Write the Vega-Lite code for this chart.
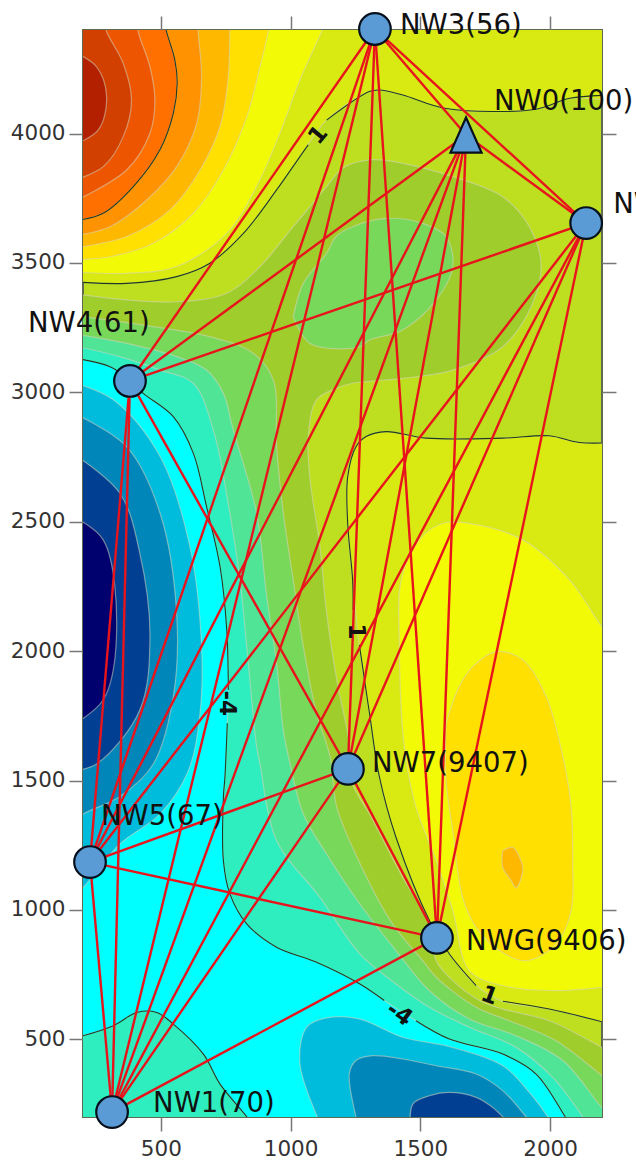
{"$schema":"https://vega.github.io/schema/vega-lite/v6.json","width":519,"height":1087,"autosize":"none","padding":{"left":83,"top":30,"right":34,"bottom":47},"background":"white","view":{"fill":"#bedf20","stroke":"#5f6a50","strokeWidth":2},
"config":{"font":"DejaVu Sans","axis":{"grid":false,"domain":false,"tickColor":"#777777","tickWidth":1.5,"tickSize":14,"labelFontSize":21.5,"labelColor":"#333333","title":null,"format":"d"}},
"datasets":{
"nodes":[{"name":"NW3","x":1325,"y":4404},{"name":"NW0","x":1676,"y":3994},{"name":"NW2","x":2139,"y":3654},{"name":"NW4","x":381,"y":3044},{"name":"NW7","x":1221,"y":1545},{"name":"NW5","x":227,"y":1185},{"name":"NWG","x":1564,"y":892},{"name":"NW1","x":312,"y":219}],
"edges":[{"x":1325,"y":4404,"x2":1676,"y2":3994},{"x":1325,"y":4404,"x2":2139,"y2":3654},{"x":1325,"y":4404,"x2":381,"y2":3044},{"x":1325,"y":4404,"x2":1221,"y2":1545},{"x":1325,"y":4404,"x2":227,"y2":1185},{"x":1325,"y":4404,"x2":1564,"y2":892},{"x":1325,"y":4404,"x2":312,"y2":219},{"x":1676,"y":3994,"x2":2139,"y2":3654},{"x":1676,"y":3994,"x2":381,"y2":3044},{"x":1676,"y":3994,"x2":1221,"y2":1545},{"x":1676,"y":3994,"x2":227,"y2":1185},{"x":1676,"y":3994,"x2":1564,"y2":892},{"x":1676,"y":3994,"x2":312,"y2":219},{"x":2139,"y":3654,"x2":381,"y2":3044},{"x":2139,"y":3654,"x2":1221,"y2":1545},{"x":2139,"y":3654,"x2":227,"y2":1185},{"x":2139,"y":3654,"x2":1564,"y2":892},{"x":2139,"y":3654,"x2":312,"y2":219},{"x":381,"y":3044,"x2":1221,"y2":1545},{"x":381,"y":3044,"x2":227,"y2":1185},{"x":381,"y":3044,"x2":312,"y2":219},{"x":1221,"y":1545,"x2":227,"y2":1185},{"x":1221,"y":1545,"x2":1564,"y2":892},{"x":1221,"y":1545,"x2":312,"y2":219},{"x":227,"y":1185,"x2":1564,"y2":892},{"x":227,"y":1185,"x2":312,"y2":219},{"x":1564,"y":892,"x2":312,"y2":219}],
"lines":[
{"c":"a","x":150,"y":3428},{"c":"a","x":368,"y":3421},{"c":"a","x":561,"y":3447},{"c":"a","x":689,"y":3499},{"c":"a","x":818,"y":3614},{"c":"a","x":946,"y":3782},{"c":"a","x":1036,"y":3911},{"c":"a","x":1068,"y":3956},
{"c":"b","x":1139,"y":4052},{"c":"b","x":1303,"y":4162},{"c":"b","x":1342,"y":4168},{"c":"b","x":1432,"y":4149},{"c":"b","x":1599,"y":4097},{"c":"b","x":1946,"y":4094},{"c":"b","x":2075,"y":4136},{"c":"b","x":2250,"y":4149},
{"c":"c","x":2250,"y":2806},{"c":"c","x":2113,"y":2806},{"c":"c","x":1997,"y":2832},{"c":"c","x":1818,"y":2823},{"c":"c","x":1522,"y":2823},{"c":"c","x":1368,"y":2848},{"c":"c","x":1291,"y":2829},{"c":"c","x":1252,"y":2790},{"c":"c","x":1220,"y":2674},{"c":"c","x":1220,"y":2494},{"c":"c","x":1239,"y":2275},{"c":"c","x":1241,"y":2159},
{"c":"d","x":1265,"y":2024},{"c":"d","x":1304,"y":1760},{"c":"d","x":1342,"y":1515},{"c":"d","x":1406,"y":1281},{"c":"d","x":1535,"y":959},{"c":"d","x":1612,"y":830},{"c":"d","x":1715,"y":708},
{"c":"e","x":1818,"y":647},{"c":"e","x":1997,"y":617},{"c":"e","x":2250,"y":555},
{"c":"f","x":150,"y":3135},{"c":"f","x":304,"y":3099},{"c":"f","x":378,"y":3048},{"c":"f","x":432,"y":2996},{"c":"f","x":548,"y":2906},{"c":"f","x":625,"y":2765},{"c":"f","x":676,"y":2559},{"c":"f","x":728,"y":2327},{"c":"f","x":754,"y":2082},{"c":"f","x":760,"y":1850},
{"c":"g","x":756,"y":1721},{"c":"g","x":747,"y":1515},{"c":"g","x":741,"y":1435},{"c":"g","x":741,"y":1190},{"c":"g","x":766,"y":1062},{"c":"g","x":831,"y":946},{"c":"g","x":946,"y":856},{"c":"g","x":1100,"y":798},{"c":"g","x":1267,"y":714},{"c":"g","x":1361,"y":650},
{"c":"h","x":1483,"y":572},{"c":"h","x":1612,"y":501},{"c":"h","x":1818,"y":443},{"c":"h","x":1946,"y":366},{"c":"h","x":2058,"y":201},{"c":"h","x":2090,"y":150},
{"c":"i","x":150,"y":500},{"c":"i","x":317,"y":553},{"c":"i","x":407,"y":604},{"c":"i","x":484,"y":604},{"c":"i","x":548,"y":559},{"c":"i","x":664,"y":443},{"c":"i","x":728,"y":327},{"c":"i","x":831,"y":201},{"c":"i","x":865,"y":150},
{"c":"j","x":510,"y":4450},{"c":"j","x":522,"y":4394},{"c":"j","x":554,"y":4284},{"c":"j","x":563,"y":4194},{"c":"j","x":548,"y":4078},{"c":"j","x":496,"y":3936},{"c":"j","x":394,"y":3795},{"c":"j","x":278,"y":3692},{"c":"j","x":150,"y":3660}
],
"bands":[
{"p":"2a","b":"2","x":150,"y":3383},{"p":"2a","b":"2","x":368,"y":3357},{"p":"2a","b":"2","x":561,"y":3350},{"p":"2a","b":"2","x":754,"y":3383},{"p":"2a","b":"2","x":882,"y":3486},{"p":"2a","b":"2","x":1010,"y":3640},{"p":"2a","b":"2","x":1139,"y":3795},{"p":"2a","b":"2","x":1201,"y":3866},{"p":"2a","b":"2","x":1303,"y":3898},{"p":"2a","b":"2","x":1432,"y":3885},{"p":"2a","b":"2","x":1625,"y":3833},{"p":"2a","b":"2","x":1817,"y":3756},{"p":"2a","b":"2","x":1920,"y":3640},{"p":"2a","b":"2","x":1965,"y":3498},{"p":"2a","b":"2","x":1933,"y":3344},{"p":"2a","b":"2","x":1817,"y":3176},{"p":"2a","b":"2","x":1625,"y":3086},{"p":"2a","b":"2","x":1432,"y":3054},{"p":"2a","b":"2","x":1239,"y":3035},{"p":"2a","b":"2","x":1175,"y":3015},{"p":"2a","b":"2","x":1100,"y":2971},{"p":"2a","b":"2","x":1068,"y":2829},{"p":"2a","b":"2","x":1075,"y":2662},{"p":"2a","b":"2","x":1113,"y":2404},{"p":"2a","b":"2","x":1139,"y":2146},{"p":"2a","b":"2","x":1178,"y":1889},{"p":"2a","b":"2","x":1229,"y":1631},{"p":"2a","b":"2","x":1239,"y":1487},{"p":"2a","b":"2","x":1304,"y":1371},{"p":"2a","b":"2","x":1432,"y":1126},{"p":"2a","b":"2","x":1535,"y":946},{"p":"2a","b":"2","x":1561,"y":804},{"p":"2a","b":"2","x":1625,"y":727},{"p":"2a","b":"2","x":1728,"y":650},{"p":"2a","b":"2","x":1818,"y":617},{"p":"2a","b":"2","x":1997,"y":572},{"p":"2a","b":"2","x":2199,"y":469},{"p":"2a","b":"2","x":2250,"y":440},{"p":"2a","b":"2","x":2250,"y":150},{"p":"2a","b":"2","x":150,"y":150},
{"p":"1a","b":"1","x":150,"y":3299},{"p":"1a","b":"1","x":432,"y":3260},{"p":"1a","b":"1","x":689,"y":3215},{"p":"1a","b":"1","x":856,"y":3151},{"p":"1a","b":"1","x":933,"y":3048},{"p":"1a","b":"1","x":946,"y":2790},{"p":"1a","b":"1","x":972,"y":2533},{"p":"1a","b":"1","x":1010,"y":2275},{"p":"1a","b":"1","x":1049,"y":2018},{"p":"1a","b":"1","x":1100,"y":1760},{"p":"1a","b":"1","x":1152,"y":1593},{"p":"1a","b":"1","x":1178,"y":1397},{"p":"1a","b":"1","x":1268,"y":1178},{"p":"1a","b":"1","x":1393,"y":946},{"p":"1a","b":"1","x":1509,"y":804},{"p":"1a","b":"1","x":1561,"y":740},{"p":"1a","b":"1","x":1715,"y":624},{"p":"1a","b":"1","x":1843,"y":572},{"p":"1a","b":"1","x":2023,"y":495},{"p":"1a","b":"1","x":2199,"y":360},{"p":"1a","b":"1","x":2250,"y":320},{"p":"1a","b":"1","x":2250,"y":150},{"p":"1a","b":"1","x":150,"y":150},
{"p":"1b","b":"1","x":1010,"y":3292},{"p":"1b","b":"1","x":1049,"y":3421},{"p":"1b","b":"1","x":1139,"y":3537},{"p":"1b","b":"1","x":1175,"y":3602},{"p":"1b","b":"1","x":1239,"y":3640},{"p":"1b","b":"1","x":1368,"y":3672},{"p":"1b","b":"1","x":1509,"y":3653},{"p":"1b","b":"1","x":1599,"y":3602},{"p":"1b","b":"1","x":1625,"y":3486},{"p":"1b","b":"1","x":1561,"y":3357},{"p":"1b","b":"1","x":1432,"y":3241},{"p":"1b","b":"1","x":1303,"y":3202},{"p":"1b","b":"1","x":1268,"y":3176},{"p":"1b","b":"1","x":1075,"y":3189},{"p":"1b","b":"1","x":1010,"y":3292},
{"p":"0a","b":"0","x":150,"y":3228},{"p":"0a","b":"0","x":368,"y":3189},{"p":"0a","b":"0","x":561,"y":3138},{"p":"0a","b":"0","x":676,"y":3086},{"p":"0a","b":"0","x":741,"y":2996},{"p":"0a","b":"0","x":779,"y":2855},{"p":"0a","b":"0","x":869,"y":2533},{"p":"0a","b":"0","x":908,"y":2211},{"p":"0a","b":"0","x":946,"y":1953},{"p":"0a","b":"0","x":972,"y":1696},{"p":"0a","b":"0","x":998,"y":1564},{"p":"0a","b":"0","x":1049,"y":1371},{"p":"0a","b":"0","x":1139,"y":1216},{"p":"0a","b":"0","x":1267,"y":1023},{"p":"0a","b":"0","x":1406,"y":843},{"p":"0a","b":"0","x":1535,"y":688},{"p":"0a","b":"0","x":1689,"y":579},{"p":"0a","b":"0","x":1869,"y":514},{"p":"0a","b":"0","x":2049,"y":418},{"p":"0a","b":"0","x":2199,"y":237},{"p":"0a","b":"0","x":2250,"y":190},{"p":"0a","b":"0","x":2250,"y":150},{"p":"0a","b":"0","x":150,"y":150},
{"p":"m1a","b":"m1","x":150,"y":3183},{"p":"m1a","b":"m1","x":342,"y":3138},{"p":"m1a","b":"m1","x":497,"y":3086},{"p":"m1a","b":"m1","x":625,"y":3035},{"p":"m1a","b":"m1","x":702,"y":2855},{"p":"m1a","b":"m1","x":766,"y":2533},{"p":"m1a","b":"m1","x":805,"y":2275},{"p":"m1a","b":"m1","x":831,"y":2018},{"p":"m1a","b":"m1","x":869,"y":1631},{"p":"m1a","b":"m1","x":882,"y":1564},{"p":"m1a","b":"m1","x":946,"y":1268},{"p":"m1a","b":"m1","x":1113,"y":1049},{"p":"m1a","b":"m1","x":1267,"y":830},{"p":"m1a","b":"m1","x":1406,"y":714},{"p":"m1a","b":"m1","x":1535,"y":624},{"p":"m1a","b":"m1","x":1689,"y":547},{"p":"m1a","b":"m1","x":1869,"y":469},{"p":"m1a","b":"m1","x":2010,"y":353},{"p":"m1a","b":"m1","x":2126,"y":201},{"p":"m1a","b":"m1","x":2160,"y":150},{"p":"m1a","b":"m1","x":150,"y":150},
{"p":"m2a","b":"m2","x":150,"y":3135},{"p":"m2a","b":"m2","x":304,"y":3099},{"p":"m2a","b":"m2","x":378,"y":3048},{"p":"m2a","b":"m2","x":432,"y":2996},{"p":"m2a","b":"m2","x":548,"y":2906},{"p":"m2a","b":"m2","x":625,"y":2765},{"p":"m2a","b":"m2","x":676,"y":2559},{"p":"m2a","b":"m2","x":728,"y":2327},{"p":"m2a","b":"m2","x":754,"y":2082},{"p":"m2a","b":"m2","x":760,"y":1850},{"p":"m2a","b":"m2","x":756,"y":1721},{"p":"m2a","b":"m2","x":747,"y":1515},{"p":"m2a","b":"m2","x":741,"y":1435},{"p":"m2a","b":"m2","x":741,"y":1190},{"p":"m2a","b":"m2","x":766,"y":1062},{"p":"m2a","b":"m2","x":831,"y":946},{"p":"m2a","b":"m2","x":946,"y":856},{"p":"m2a","b":"m2","x":1100,"y":798},{"p":"m2a","b":"m2","x":1267,"y":714},{"p":"m2a","b":"m2","x":1361,"y":650},{"p":"m2a","b":"m2","x":1483,"y":572},{"p":"m2a","b":"m2","x":1612,"y":501},{"p":"m2a","b":"m2","x":1818,"y":443},{"p":"m2a","b":"m2","x":1946,"y":366},{"p":"m2a","b":"m2","x":2058,"y":201},{"p":"m2a","b":"m2","x":2090,"y":150},{"p":"m2a","b":"m2","x":865,"y":150},{"p":"m2a","b":"m2","x":831,"y":201},{"p":"m2a","b":"m2","x":728,"y":327},{"p":"m2a","b":"m2","x":664,"y":443},{"p":"m2a","b":"m2","x":548,"y":559},{"p":"m2a","b":"m2","x":484,"y":604},{"p":"m2a","b":"m2","x":407,"y":604},{"p":"m2a","b":"m2","x":317,"y":553},{"p":"m2a","b":"m2","x":150,"y":500},
{"p":"m3a","b":"m3","x":150,"y":3042},{"p":"m3a","b":"m3","x":317,"y":2971},{"p":"m3a","b":"m3","x":497,"y":2752},{"p":"m3a","b":"m3","x":612,"y":2404},{"p":"m3a","b":"m3","x":657,"y":2018},{"p":"m3a","b":"m3","x":651,"y":1760},{"p":"m3a","b":"m3","x":606,"y":1538},{"p":"m3a","b":"m3","x":497,"y":1371},{"p":"m3a","b":"m3","x":342,"y":1255},{"p":"m3a","b":"m3","x":201,"y":1087},{"p":"m3a","b":"m3","x":150,"y":1040},
{"p":"m3b","b":"m3","x":1125,"y":150},{"p":"m3b","b":"m3","x":1036,"y":405},{"p":"m3b","b":"m3","x":1062,"y":547},{"p":"m3b","b":"m3","x":1139,"y":583},{"p":"m3b","b":"m3","x":1265,"y":579},{"p":"m3b","b":"m3","x":1432,"y":508},{"p":"m3b","b":"m3","x":1612,"y":472},{"p":"m3b","b":"m3","x":1818,"y":398},{"p":"m3b","b":"m3","x":1920,"y":295},{"p":"m3b","b":"m3","x":1991,"y":201},{"p":"m3b","b":"m3","x":2020,"y":150},
{"p":"m4a","b":"m4","x":150,"y":2926},{"p":"m4a","b":"m4","x":368,"y":2790},{"p":"m4a","b":"m4","x":497,"y":2533},{"p":"m4a","b":"m4","x":561,"y":2146},{"p":"m4a","b":"m4","x":548,"y":1824},{"p":"m4a","b":"m4","x":471,"y":1564},{"p":"m4a","b":"m4","x":342,"y":1438},{"p":"m4a","b":"m4","x":201,"y":1371},{"p":"m4a","b":"m4","x":150,"y":1330},
{"p":"m4b","b":"m4","x":1265,"y":150},{"p":"m4b","b":"m4","x":1226,"y":366},{"p":"m4b","b":"m4","x":1252,"y":418},{"p":"m4b","b":"m4","x":1316,"y":437},{"p":"m4b","b":"m4","x":1432,"y":424},{"p":"m4b","b":"m4","x":1561,"y":398},{"p":"m4b","b":"m4","x":1715,"y":366},{"p":"m4b","b":"m4","x":1817,"y":302},{"p":"m4b","b":"m4","x":1907,"y":201},{"p":"m4b","b":"m4","x":1945,"y":150},
{"p":"m5a","b":"m5","x":150,"y":2771},{"p":"m5a","b":"m5","x":342,"y":2610},{"p":"m5a","b":"m5","x":419,"y":2378},{"p":"m5a","b":"m5","x":458,"y":2056},{"p":"m5a","b":"m5","x":419,"y":1773},{"p":"m5a","b":"m5","x":252,"y":1564},{"p":"m5a","b":"m5","x":150,"y":1535},
{"p":"m5b","b":"m5","x":1462,"y":150},{"p":"m5b","b":"m5","x":1471,"y":250},{"p":"m5b","b":"m5","x":1535,"y":282},{"p":"m5b","b":"m5","x":1612,"y":295},{"p":"m5b","b":"m5","x":1715,"y":276},{"p":"m5b","b":"m5","x":1779,"y":237},{"p":"m5b","b":"m5","x":1817,"y":201},{"p":"m5b","b":"m5","x":1860,"y":150},
{"p":"m6a","b":"m6","x":150,"y":2526},{"p":"m6a","b":"m6","x":278,"y":2430},{"p":"m6a","b":"m6","x":329,"y":2056},{"p":"m6a","b":"m6","x":278,"y":1812},{"p":"m6a","b":"m6","x":150,"y":1708},
{"p":"4a","b":"4","x":150,"y":3428},{"p":"4a","b":"4","x":368,"y":3421},{"p":"4a","b":"4","x":561,"y":3447},{"p":"4a","b":"4","x":689,"y":3499},{"p":"4a","b":"4","x":818,"y":3614},{"p":"4a","b":"4","x":946,"y":3782},{"p":"4a","b":"4","x":1036,"y":3911},{"p":"4a","b":"4","x":1139,"y":4052},{"p":"4a","b":"4","x":1303,"y":4162},{"p":"4a","b":"4","x":1342,"y":4168},{"p":"4a","b":"4","x":1432,"y":4149},{"p":"4a","b":"4","x":1599,"y":4097},{"p":"4a","b":"4","x":1946,"y":4094},{"p":"4a","b":"4","x":2075,"y":4136},{"p":"4a","b":"4","x":2250,"y":4149},{"p":"4a","b":"4","x":2250,"y":4450},{"p":"4a","b":"4","x":150,"y":4450},
{"p":"5a","b":"5","x":150,"y":4450},{"p":"5a","b":"5","x":1143,"y":4450},{"p":"5a","b":"5","x":1120,"y":4394},{"p":"5a","b":"5","x":1036,"y":4207},{"p":"5a","b":"5","x":959,"y":4001},{"p":"5a","b":"5","x":869,"y":3795},{"p":"5a","b":"5","x":754,"y":3614},{"p":"5a","b":"5","x":561,"y":3486},{"p":"5a","b":"5","x":368,"y":3460},{"p":"5a","b":"5","x":150,"y":3466},
{"p":"6a","b":"6","x":150,"y":4450},{"p":"6a","b":"6","x":925,"y":4450},{"p":"6a","b":"6","x":914,"y":4394},{"p":"6a","b":"6","x":882,"y":4258},{"p":"6a","b":"6","x":831,"y":4065},{"p":"6a","b":"6","x":741,"y":3859},{"p":"6a","b":"6","x":625,"y":3692},{"p":"6a","b":"6","x":471,"y":3576},{"p":"6a","b":"6","x":304,"y":3524},{"p":"6a","b":"6","x":150,"y":3511},
{"p":"7a","b":"7","x":150,"y":4450},{"p":"7a","b":"7","x":770,"y":4450},{"p":"7a","b":"7","x":766,"y":4394},{"p":"7a","b":"7","x":760,"y":4220},{"p":"7a","b":"7","x":728,"y":4027},{"p":"7a","b":"7","x":651,"y":3859},{"p":"7a","b":"7","x":535,"y":3705},{"p":"7a","b":"7","x":368,"y":3602},{"p":"7a","b":"7","x":150,"y":3556},
{"p":"8a","b":"8","x":150,"y":4450},{"p":"8a","b":"8","x":645,"y":4450},{"p":"8a","b":"8","x":644,"y":4394},{"p":"8a","b":"8","x":657,"y":4220},{"p":"8a","b":"8","x":638,"y":4039},{"p":"8a","b":"8","x":561,"y":3872},{"p":"8a","b":"8","x":445,"y":3743},{"p":"8a","b":"8","x":304,"y":3640},{"p":"8a","b":"8","x":150,"y":3602},
{"p":"9a","b":"9","x":150,"y":4450},{"p":"9a","b":"9","x":510,"y":4450},{"p":"9a","b":"9","x":522,"y":4394},{"p":"9a","b":"9","x":554,"y":4284},{"p":"9a","b":"9","x":563,"y":4194},{"p":"9a","b":"9","x":548,"y":4078},{"p":"9a","b":"9","x":496,"y":3936},{"p":"9a","b":"9","x":394,"y":3795},{"p":"9a","b":"9","x":278,"y":3692},{"p":"9a","b":"9","x":150,"y":3660},
{"p":"10a","b":"10","x":150,"y":4450},{"p":"10a","b":"10","x":410,"y":4450},{"p":"10a","b":"10","x":413,"y":4394},{"p":"10a","b":"10","x":458,"y":4258},{"p":"10a","b":"10","x":477,"y":4130},{"p":"10a","b":"10","x":458,"y":4001},{"p":"10a","b":"10","x":368,"y":3859},{"p":"10a","b":"10","x":150,"y":3730},
{"p":"11a","b":"11","x":150,"y":4450},{"p":"11a","b":"11","x":280,"y":4450},{"p":"11a","b":"11","x":291,"y":4394},{"p":"11a","b":"11","x":355,"y":4271},{"p":"11a","b":"11","x":387,"y":4130},{"p":"11a","b":"11","x":355,"y":3988},{"p":"11a","b":"11","x":278,"y":3872},{"p":"11a","b":"11","x":150,"y":3814},
{"p":"12a","b":"12","x":150,"y":4323},{"p":"12a","b":"12","x":252,"y":4258},{"p":"12a","b":"12","x":291,"y":4142},{"p":"12a","b":"12","x":259,"y":4014},{"p":"12a","b":"12","x":150,"y":3949},
{"p":"4b","b":"4","x":2250,"y":2806},{"p":"4b","b":"4","x":2113,"y":2806},{"p":"4b","b":"4","x":1997,"y":2832},{"p":"4b","b":"4","x":1818,"y":2823},{"p":"4b","b":"4","x":1522,"y":2823},{"p":"4b","b":"4","x":1368,"y":2848},{"p":"4b","b":"4","x":1291,"y":2829},{"p":"4b","b":"4","x":1252,"y":2790},{"p":"4b","b":"4","x":1220,"y":2674},{"p":"4b","b":"4","x":1220,"y":2494},{"p":"4b","b":"4","x":1239,"y":2275},{"p":"4b","b":"4","x":1265,"y":2018},{"p":"4b","b":"4","x":1304,"y":1760},{"p":"4b","b":"4","x":1342,"y":1515},{"p":"4b","b":"4","x":1406,"y":1281},{"p":"4b","b":"4","x":1535,"y":959},{"p":"4b","b":"4","x":1612,"y":830},{"p":"4b","b":"4","x":1715,"y":708},{"p":"4b","b":"4","x":1818,"y":647},{"p":"4b","b":"4","x":1997,"y":617},{"p":"4b","b":"4","x":2250,"y":555},
{"p":"5b","b":"5","x":2250,"y":2030},{"p":"5b","b":"5","x":2199,"y":2095},{"p":"5b","b":"5","x":2075,"y":2275},{"p":"5b","b":"5","x":1895,"y":2430},{"p":"5b","b":"5","x":1689,"y":2494},{"p":"5b","b":"5","x":1586,"y":2494},{"p":"5b","b":"5","x":1496,"y":2430},{"p":"5b","b":"5","x":1426,"y":2275},{"p":"5b","b":"5","x":1419,"y":2018},{"p":"5b","b":"5","x":1438,"y":1631},{"p":"5b","b":"5","x":1483,"y":1397},{"p":"5b","b":"5","x":1561,"y":1190},{"p":"5b","b":"5","x":1625,"y":997},{"p":"5b","b":"5","x":1689,"y":765},{"p":"5b","b":"5","x":1818,"y":707},{"p":"5b","b":"5","x":2010,"y":688},{"p":"5b","b":"5","x":2250,"y":707},
{"p":"6b","b":"6","x":1599,"y":1721},{"p":"6b","b":"6","x":1650,"y":1863},{"p":"6b","b":"6","x":1702,"y":1940},{"p":"6b","b":"6","x":1792,"y":1998},{"p":"6b","b":"6","x":1895,"y":1966},{"p":"6b","b":"6","x":1985,"y":1824},{"p":"6b","b":"6","x":2049,"y":1593},{"p":"6b","b":"6","x":2081,"y":1397},{"p":"6b","b":"6","x":2087,"y":1178},{"p":"6b","b":"6","x":2081,"y":997},{"p":"6b","b":"6","x":2023,"y":868},{"p":"6b","b":"6","x":1907,"y":804},{"p":"6b","b":"6","x":1805,"y":843},{"p":"6b","b":"6","x":1715,"y":933},{"p":"6b","b":"6","x":1663,"y":1049},{"p":"6b","b":"6","x":1625,"y":1306},{"p":"6b","b":"6","x":1599,"y":1500},{"p":"6b","b":"6","x":1599,"y":1721},
{"p":"7b","b":"7","x":1817,"y":1229},{"p":"7b","b":"7","x":1856,"y":1242},{"p":"7b","b":"7","x":1888,"y":1190},{"p":"7b","b":"7","x":1895,"y":1152},{"p":"7b","b":"7","x":1869,"y":1085},{"p":"7b","b":"7","x":1850,"y":1113},{"p":"7b","b":"7","x":1817,"y":1165},{"p":"7b","b":"7","x":1817,"y":1229}
]},
"encoding":{"x":{"field":"x","type":"quantitative","axis":null,"scale":{"domain":[200,2200],"nice":false,"zero":false}},"y":{"field":"y","type":"quantitative","axis":null,"scale":{"domain":[200,4400],"nice":false,"zero":false}}},
"layer":[
{"data":{"name":"bands"},"mark":{"type":"line","interpolate":"catmull-rom","clip":true,"stroke":"#d4d4c0","strokeWidth":1.2,"strokeOpacity":0.55},
"encoding":{"x":{"field":"x","type":"quantitative","axis":{"orient":"bottom","values":[500,1000,1500,2000],"labelPadding":7}},
"y":{"field":"y","type":"quantitative","axis":{"orient":"left","values":[500,1000,1500,2000,2500,3000,3500,4000],"labelPadding":4}},
"order":{"value":null},"detail":{"field":"p"},
"fill":{"field":"b","type":"nominal","legend":null,"scale":{"domain":["m6","m5","m4","m3","m2","m1","0","1","2","4","5","6","7","8","9","10","11","12"],"range":["#00006e","#003f92","#0086b8","#00bcdc","#00ffff","#2eeec0","#50e496","#78d85a","#9fce2c","#d8ea12","#f2fa06","#ffe000","#ffb800","#ff9200","#ff7000","#ee5500","#d24000","#b22000"]}}}},
{"data":{"name":"lines"},"mark":{"type":"line","interpolate":"catmull-rom","clip":true,"stroke":"#1d3a22","strokeWidth":1.1},
"encoding":{"order":{"value":null},"detail":{"field":"c"}}},
{"data":{"name":"edges"},"mark":{"type":"rule","stroke":"#e8141c","strokeWidth":2.4},"encoding":{"x2":{"field":"x2"},"y2":{"field":"y2"}}},
{"data":{"values":[{"t":"1","x":1107,"y":3994}]},"mark":{"type":"text","angle":310,"fontSize":23,"fontWeight":"bold","color":"#111111"},"encoding":{"text":{"field":"t"}}},
{"data":{"values":[{"t":"1","x":1252,"y":2076},{"t":"-4","x":753,"y":1799}]},"mark":{"type":"text","angle":90,"fontSize":23,"fontWeight":"bold","color":"#111111"},"encoding":{"text":{"field":"t"}}},
{"data":{"values":[{"t":"1","x":1766,"y":669}]},"mark":{"type":"text","angle":20,"fontSize":23,"fontWeight":"bold","color":"#111111"},"encoding":{"text":{"field":"t"}}},
{"data":{"values":[{"t":"-4","x":1419,"y":598}]},"mark":{"type":"text","angle":35,"fontSize":23,"fontWeight":"bold","color":"#111111"},"encoding":{"text":{"field":"t"}}},
{"data":{"name":"nodes"},"transform":[{"filter":"datum.name!='NW0'"}],"mark":{"type":"point","shape":"circle","filled":true,"fill":"#5b9bd5","stroke":"#06101c","strokeWidth":2.2,"opacity":1,"size":1000},"encoding":{"x":{"field":"x","type":"quantitative","axis":{"orient":"top","values":[500,1000,1500,2000],"labels":false}},"y":{"field":"y","type":"quantitative","axis":{"orient":"right","values":[500,1000,1500,2000,2500,3000,3500,4000],"labels":false}}}},
{"data":{"name":"nodes"},"transform":[{"filter":"datum.name=='NW0'"}],"mark":{"type":"point","shape":"M -0.89 1 L 0 -1 L 0.89 1 Z","filled":true,"fill":"#5b9bd5","stroke":"#06101c","strokeWidth":2.2,"opacity":1,"size":1225}},
{"data":{"values":[{"t":"NW3(56)","x":1325,"y":4404}]},"mark":{"type":"text","align":"left","baseline":"middle","dx":25,"dy":-3,"fontSize":27.5,"color":"#111111"},"encoding":{"text":{"field":"t"}}},
{"data":{"values":[{"t":"NW0(100)","x":1676,"y":3994}]},"mark":{"type":"text","align":"left","baseline":"middle","dx":28,"dy":-33,"fontSize":27.5,"color":"#111111"},"encoding":{"text":{"field":"t"}}},
{"data":{"values":[{"t":"NW2(58)","x":2139,"y":3654}]},"mark":{"type":"text","align":"left","baseline":"middle","dx":27,"dy":-18,"fontSize":27.5,"color":"#111111"},"encoding":{"text":{"field":"t"}}},
{"data":{"values":[{"t":"NW4(61)","x":381,"y":3044}]},"mark":{"type":"text","align":"left","baseline":"middle","dx":-102,"dy":-57,"fontSize":27.5,"color":"#111111"},"encoding":{"text":{"field":"t"}}},
{"data":{"values":[{"t":"NW7(9407)","x":1221,"y":1545}]},"mark":{"type":"text","align":"left","baseline":"middle","dx":24,"dy":-5,"fontSize":27.5,"color":"#111111"},"encoding":{"text":{"field":"t"}}},
{"data":{"values":[{"t":"NW5(67)","x":227,"y":1185}]},"mark":{"type":"text","align":"left","baseline":"middle","dx":11,"dy":-45,"fontSize":27.5,"color":"#111111"},"encoding":{"text":{"field":"t"}}},
{"data":{"values":[{"t":"NWG(9406)","x":1564,"y":892}]},"mark":{"type":"text","align":"left","baseline":"middle","dx":29,"dy":4,"fontSize":27.5,"color":"#111111"},"encoding":{"text":{"field":"t"}}},
{"data":{"values":[{"t":"NW1(70)","x":312,"y":219}]},"mark":{"type":"text","align":"left","baseline":"middle","dx":41,"dy":-8,"fontSize":27.5,"color":"#111111"},"encoding":{"text":{"field":"t"}}}
],
"resolve":{"axis":{"x":"independent","y":"independent"}}}
